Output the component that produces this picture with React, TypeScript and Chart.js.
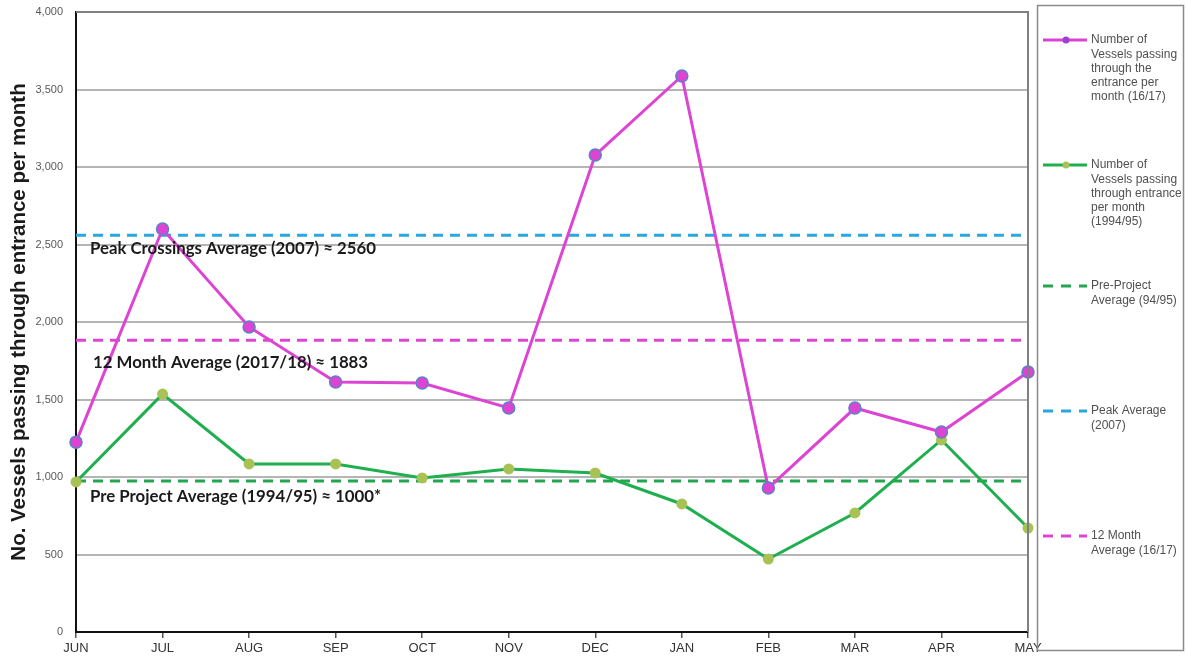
import React, { useEffect, useRef } from "react";
import { Chart, registerables } from "chart.js";

Chart.register(...registerables);

const MONTHS = ["JUN", "JUL", "AUG", "SEP", "OCT", "NOV", "DEC", "JAN", "FEB", "MAR", "APR", "MAY"];
const VESSELS_1617 = [1225, 2600, 1968, 1613, 1606, 1445, 3077, 3587, 929, 1445, 1290, 1677];
const VESSELS_9495 = [968, 1535, 1084, 1084, 994, 1052, 1026, 826, 471, 768, 1239, 671];
const PRE_PROJECT_AVG = 975;
const PEAK_AVG = 2560;
const TWELVE_MONTH_AVG = 1883;

const Y_MIN = 0;
const Y_MAX = 4000;
const Y_STEP = 500;

const ANNOTATIONS = [
  { value: PEAK_AVG, text: "Peak Crossings Average (2007) \u2248 2560", dx: 14, dy: 13 },
  { value: TWELVE_MONTH_AVG, text: "12 Month Average (2017/18) \u2248 1883", dx: 17, dy: 22 },
  { value: PRE_PROJECT_AVG, text: "Pre Project Average (1994/95) \u2248 1000*", dx: 14, dy: 16 },
];

const LEGEND_ITEMS = [
  { kind: "series", color: "#DD44D4", marker: "#A040D0", y: 40, lines: ["Number of", "Vessels passing", "through the", "entrance per", "month (16/17)"] },
  { kind: "series", color: "#1FAF4F", marker: "#A8C255", y: 165, lines: ["Number of", "Vessels passing", "through entrance", "per month", "(1994/95)"] },
  { kind: "dash", color: "#22A650", y: 286, lines: ["Pre-Project", "Average (94/95)"] },
  { kind: "dash", color: "#2AA7DE", y: 411, lines: ["Peak Average", "(2007)"] },
  { kind: "dash", color: "#E044D6", y: 536, lines: ["12 Month", "Average (16/17)"] },
];

const MAGENTA = "#DD44D4";
const GREEN = "#1FAF4F";

const overlayPlugin = {
  id: "overlay",
  afterDraw(chart: any) {
    const { ctx, chartArea } = chart;
    const y = chart.scales.y;
    ctx.save();
    // frame top and right
    ctx.strokeStyle = "#808080";
    ctx.lineWidth = 2;
    ctx.beginPath();
    ctx.moveTo(chartArea.left, chartArea.top);
    ctx.lineTo(chartArea.right, chartArea.top);
    ctx.lineTo(chartArea.right, chartArea.bottom);
    ctx.stroke();

    // annotations
    ctx.fillStyle = "#1a1a1a";
    ctx.font = "bold 16.8px Lato";
    ctx.textBaseline = "middle";
    ctx.textAlign = "left";
    for (const a of ANNOTATIONS) {
      ctx.fillText(a.text, chartArea.left + a.dx, y.getPixelForValue(a.value) + a.dy);
    }

    // legend box
    ctx.strokeStyle = "#8a8a8a";
    ctx.lineWidth = 1.5;
    ctx.strokeRect(1037.5, 5.5, 146, 645);
    ctx.font = "12px 'Liberation Sans'";
    for (const item of LEGEND_ITEMS) {
      ctx.strokeStyle = item.color;
      ctx.lineWidth = 3;
      if (item.kind === "series") {
        ctx.setLineDash([]);
        ctx.beginPath();
        ctx.moveTo(1043, item.y);
        ctx.lineTo(1087, item.y);
        ctx.stroke();
        ctx.fillStyle = item.marker as string;
        ctx.beginPath();
        ctx.arc(1066, item.y, 3.5, 0, Math.PI * 2);
        ctx.fill();
      } else {
        ctx.setLineDash([10, 8]);
        ctx.beginPath();
        ctx.moveTo(1043, item.y);
        ctx.lineTo(1087, item.y);
        ctx.stroke();
        ctx.setLineDash([]);
      }
      ctx.fillStyle = "#505050";
      item.lines.forEach((t, i) => ctx.fillText(t, 1091, item.y + i * 14.2));
    }
    ctx.restore();
  },
};

export default function App() {
  const ref = useRef<HTMLCanvasElement | null>(null);

  useEffect(() => {
    if (!ref.current) return;
    const dashed = (label: string, value: number, color: string) => ({
      label,
      data: MONTHS.map(() => value),
      borderColor: color,
      backgroundColor: color,
      borderWidth: 3,
      borderDash: [10, 7],
      pointRadius: 0,
      pointHoverRadius: 0,
      order: 3,
    });
    const chart = new Chart(ref.current, {
      type: "line",
      data: {
        labels: MONTHS,
        datasets: [
          dashed("Pre-Project Average (94/95)", PRE_PROJECT_AVG, "#22A650"),
          dashed("Peak Average (2007)", PEAK_AVG, "#2AA7DE"),
          dashed("12 Month Average (16/17)", TWELVE_MONTH_AVG, "#E044D6"),
          {
            label: "Number of Vessels passing through entrance per month (1994/95)",
            data: VESSELS_9495,
            borderColor: GREEN,
            backgroundColor: "#A8C255",
            pointBackgroundColor: "#A8C255",
            pointBorderColor: "#A8C255",
            borderWidth: 3,
            pointRadius: 4,
            tension: 0,
            order: 2,
          },
          {
            label: "Number of Vessels passing through the entrance per month (16/17)",
            data: VESSELS_1617,
            borderColor: MAGENTA,
            backgroundColor: MAGENTA,
            pointBackgroundColor: MAGENTA,
            pointBorderColor: "#5B82C4",
            pointBorderWidth: 1.5,
            borderWidth: 3,
            pointRadius: 6,
            tension: 0,
            order: 1,
          },
        ],
      },
      options: {
        responsive: false,
        animation: false,
        devicePixelRatio: 1,
        layout: { padding: { left: 0, right: 158, top: 12, bottom: 0 } },
        plugins: {
          legend: { display: false },
          tooltip: { enabled: false },
          title: { display: false },
        },
        scales: {
          x: {
            type: "category",
            offset: false,
            grid: {
              drawOnChartArea: false,
              drawTicks: true,
              tickLength: 6,
              color: "#555555",
              lineWidth: 1.5,
            },
            border: { color: "#111111", width: 2 },
            ticks: {
              color: "#333333",
              font: { family: "'Liberation Sans'", size: 13 },
              padding: 3,
              maxRotation: 0,
              autoSkip: false,
            },
            afterFit: (s: any) => {
              s.height = 31;
              s.paddingLeft = 0;
              s.paddingRight = 0;
            },
          },
          y: {
            min: Y_MIN,
            max: Y_MAX,
            ticks: {
              stepSize: Y_STEP,
              color: "#595959",
              font: { family: "'Liberation Sans'", size: 11 },
              padding: 13,
              callback: (v: any) => Number(v).toLocaleString("en-US"),
            },
            grid: {
              color: "#B5B5B5",
              lineWidth: 2,
              drawTicks: false,
            },
            border: { color: "#111111", width: 2 },
            title: {
              display: true,
              text: "No. Vessels passing through entrance per month",
              color: "#1a1a1a",
              font: { family: "'Liberation Sans'", size: 20.5, weight: "bold" },
              padding: { top: 7, bottom: 0 },
            },
            afterFit: (s: any) => {
              s.width = 76;
              s.paddingTop = 0;
              s.paddingBottom = 0;
            },
          },
        },
      },
      plugins: [overlayPlugin],
    });
    return () => chart.destroy();
  }, []);

  return (
    <div style={{ position: "fixed", left: 0, top: 0, width: 1186, height: 663, background: "#fff" }}>
      <canvas ref={ref} width={1186} height={663} style={{ display: "block", width: 1186, height: 663 }} />
    </div>
  );
}
